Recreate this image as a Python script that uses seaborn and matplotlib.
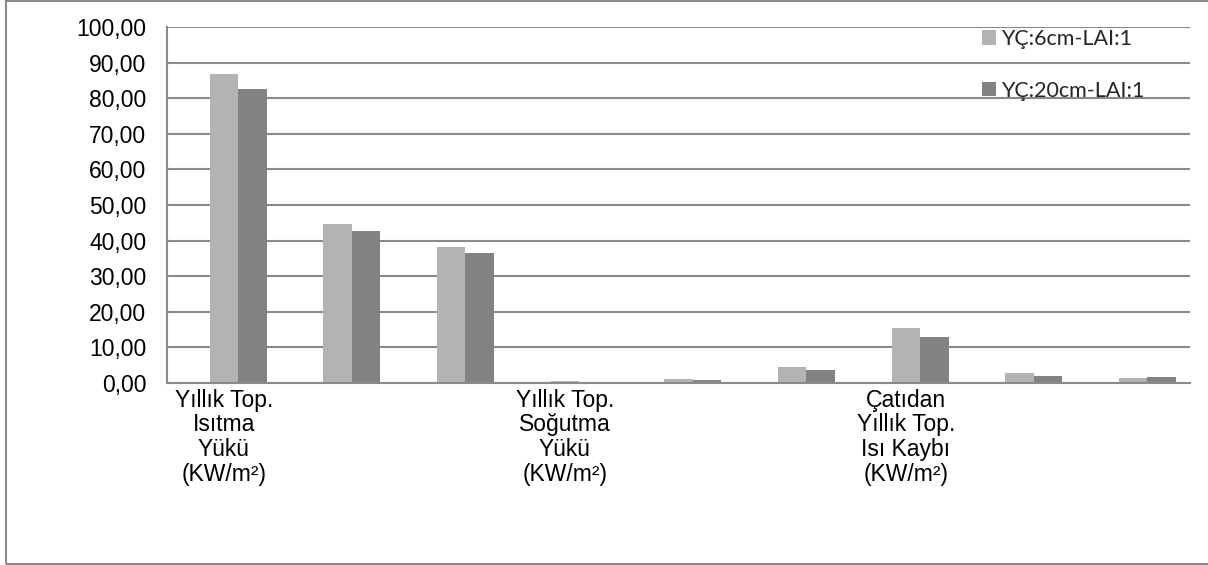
import matplotlib
matplotlib.use("Agg")
import matplotlib.pyplot as plt
from matplotlib.patches import Rectangle, Patch
from matplotlib.ticker import FuncFormatter, MultipleLocator
import pandas as pd
import seaborn as sns

# Kategori etiketleri (yalnızca bazı kategorilerin etiketi görünür)
kategori_etiketleri = [
    "Yıllık Top.\nIsıtma\nYükü\n(KW/m²)", "", "",
    "Yıllık Top.\nSoğutma\nYükü\n(KW/m²)", "", "",
    "Çatıdan\nYıllık Top.\nIsı Kaybı\n(KW/m²)", "", "",
]

# Seri adları ve değerleri
seri_bos = "(boş)"
seri_6cm = "YÇ:6cm-LAI:1"
seri_20cm = "YÇ:20cm-LAI:1"
degerler_6cm = [86.8, 44.7, 38.2, 0.6, 1.1, 4.5, 15.5, 2.8, 1.3]
degerler_20cm = [82.6, 42.7, 36.6, 0.4, 0.8, 3.7, 13.0, 2.0, 1.7]

renk_acik = "#b3b3b3"
renk_koyu = "#828282"
renk_cizgi = "#8a8a8a"

sns.set_theme(style="white")
plt.rcParams["font.family"] = ["Liberation Sans", "DejaVu Sans"]

df = pd.DataFrame({
    "kategori": list(range(len(degerler_6cm))) * 2,
    "deger": degerler_6cm + degerler_20cm,
    "seri": [seri_6cm] * len(degerler_6cm) + [seri_20cm] * len(degerler_20cm),
})

W, H = 1208, 565
fig = plt.figure(figsize=(W / 100, H / 100), dpi=100)
fig.patch.set_facecolor("white")
ax = fig.add_axes([167 / W, (H - 383) / H, 1023 / W, 356 / H])

sns.barplot(
    data=df, x="kategori", y="deger", hue="seri",
    order=list(range(len(kategori_etiketleri))),
    hue_order=[seri_bos, seri_6cm, seri_20cm],
    palette=["white", renk_acik, renk_koyu],
    width=0.752, gap=0, dodge=True, saturation=1,
    errorbar=None, legend=False, ax=ax, zorder=3,
)
for p in ax.patches:
    p.set_edgecolor("none")
    p.set_linewidth(0)

ax.set_xlim(-0.5, len(kategori_etiketleri) - 0.5)
ax.set_ylim(0, 100)
ax.yaxis.set_major_locator(MultipleLocator(10))
ax.yaxis.set_major_formatter(FuncFormatter(lambda v, _: f"{v:.2f}".replace(".", ",")))
ax.set_xticks(range(len(kategori_etiketleri)))
ax.set_xticklabels(kategori_etiketleri, linespacing=1.10, ha="center", va="top")
ax.set_xlabel("")
ax.set_ylabel("")

ax.tick_params(axis="y", length=0, pad=15, labelsize=16.5, labelcolor="black")
ax.tick_params(axis="x", length=0, pad=4, labelsize=16.5, labelcolor="black")

ax.grid(axis="y", color=renk_cizgi, linewidth=1.5, zorder=0)
ax.grid(axis="x", visible=False)
ax.set_axisbelow(True)
for side in ("top", "right"):
    ax.spines[side].set_visible(False)
for side in ("left", "bottom"):
    ax.spines[side].set_color(renk_cizgi)
    ax.spines[side].set_linewidth(1.5)
    ax.spines[side].set_zorder(4)

# Gösterge
tutamaklar = [Patch(facecolor=renk_acik, edgecolor="none", label=seri_6cm),
              Patch(facecolor=renk_koyu, edgecolor="none", label=seri_20cm)]
fig.legend(
    handles=tutamaklar, loc="upper left",
    bbox_to_anchor=(982 / W, 1 - 29 / H),
    frameon=False, borderpad=0, borderaxespad=0,
    handlelength=0.65, handleheight=0.65, handletextpad=0.25,
    labelspacing=1.48,
    prop={"family": ["Lato", "DejaVu Sans"], "size": 15.5},
)

# Dış çerçeve
fig.add_artist(Rectangle((6 / W, 1 / H), 1.1, 1 - 2 / H, transform=fig.transFigure,
                         fill=False, edgecolor=renk_cizgi, linewidth=1.5, clip_on=False))

fig.savefig("out.png", dpi=100, facecolor="white")
